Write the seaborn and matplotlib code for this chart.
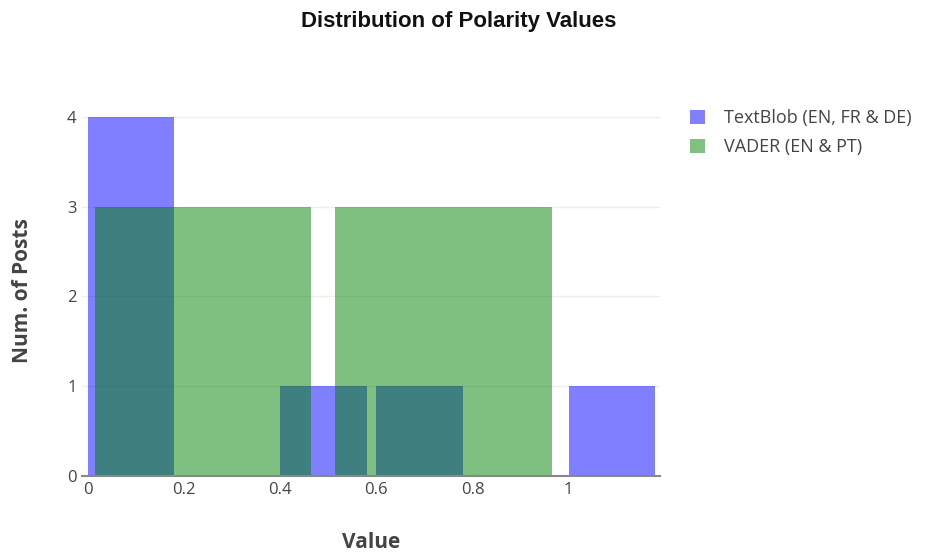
import matplotlib
matplotlib.use("Agg")
import matplotlib.pyplot as plt
import seaborn as sns
import pandas as pd
from matplotlib.patches import Patch

# Data (bin centers and counts)
textblob_edges = [-0.01, 0.19, 0.39, 0.59, 0.79, 0.99, 1.19]
textblob_centers = [0.09, 0.29, 0.49, 0.69, 0.89, 1.09]
textblob_counts = [4, 0, 1, 1, 0, 1]

vader_edges = [-0.01, 0.49, 0.99]
vader_centers = [0.24, 0.74]
vader_counts = [3, 3]

series_names = ["TextBlob (EN, FR & DE)", "VADER (EN & PT)"]
yticks = [0, 1, 2, 3, 4]
xticks = [0, 0.2, 0.4, 0.6, 0.8, 1]
xtick_labels = ["0", "0.2", "0.4", "0.6", "0.8", "1"]

sns.set_style("white")
plt.rcParams["font.family"] = ["Open Sans", "DejaVu Sans"]

fig = plt.figure(figsize=(9.29, 5.54), dpi=100)
ax = fig.add_axes([82 / 929, 78 / 554, (660 - 82) / 929, (476 - 98) / 554])

df_tb = pd.DataFrame({"x": textblob_centers, "w": textblob_counts})
df_vd = pd.DataFrame({"x": vader_centers, "w": vader_counts})

sns.histplot(data=df_tb, x="x", weights="w", bins=textblob_edges, shrink=0.9,
             color="#0000ff", alpha=0.5, edgecolor="none", linewidth=0, ax=ax, zorder=3)
sns.histplot(data=df_vd, x="x", weights="w", bins=vader_edges, shrink=0.9,
             color="#008000", alpha=0.5, edgecolor="none", linewidth=0, ax=ax, zorder=4)

ax.set_xlim(-0.012, 1.19)
ax.set_ylim(0, 4.21)
ax.set_yticks(yticks)
ax.set_yticklabels([str(v) for v in yticks])
ax.set_xticks(xticks)
ax.set_xticklabels(xtick_labels)
ax.tick_params(axis="both", length=0, labelsize=12, labelcolor="#444444")
ax.tick_params(axis="x", pad=4)
ax.tick_params(axis="y", pad=4)
ax.yaxis.grid(True, color="#eeeeee", linewidth=1, zorder=0)
ax.xaxis.grid(False)
ax.set_axisbelow(True)
for s in ["top", "right", "left"]:
    ax.spines[s].set_visible(False)
ax.spines["bottom"].set_color("#888888")
ax.spines["bottom"].set_linewidth(1.5)
ax.spines["bottom"].set_zorder(5)

xl = ax.set_xlabel("Value", fontsize=15, fontweight="bold", color="#444444")
xl.set_va("center")
ax.xaxis.set_label_coords((371 - 82) / 578, (476 - 543) / 378)
yl = ax.set_ylabel("Num. of Posts", fontsize=15, fontweight="bold", color="#444444")
yl.set_va("center")
ax.yaxis.set_label_coords((23 - 82) / 578, 0.49)

fig.text(459 / 929, 1 - 21 / 554, "Distribution of Polarity Values", ha="center", va="center",
         fontsize=16, fontweight="bold", color="#111111", family=["Liberation Sans", "DejaVu Sans"])

handles = [Patch(facecolor="#8080ff", edgecolor="none"), Patch(facecolor="#80c080", edgecolor="none")]
leg = fig.legend(handles, series_names, loc="upper left", bbox_to_anchor=(690 / 929, 1 - 109 / 554),
                 frameon=False, fontsize=13, handlelength=0.85, handleheight=0.85,
                 handletextpad=1.05, labelspacing=0.62, borderaxespad=0, borderpad=0)
for t in leg.get_texts():
    t.set_color("#444444")

fig.savefig("out.png", dpi=100)
